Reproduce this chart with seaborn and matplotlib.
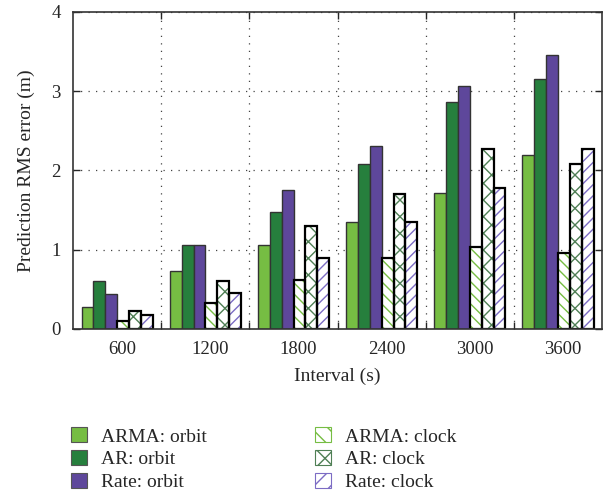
import matplotlib
matplotlib.use("Agg")
import matplotlib.pyplot as plt
from matplotlib.patches import Patch, Rectangle
from matplotlib.ticker import FixedLocator
from matplotlib.transforms import ScaledTranslation
import seaborn as sns
import pandas as pd

intervals = ["600", "1200", "1800", "2400", "3000", "3600"]
series = ["ARMA: orbit", "AR: orbit", "Rate: orbit", "ARMA: clock", "AR: clock", "Rate: clock"]
arma_orbit = [0.27, 0.73, 1.06, 1.35, 1.72, 2.19]
ar_orbit = [0.60, 1.06, 1.48, 2.08, 2.86, 3.15]
rate_orbit = [0.44, 1.06, 1.75, 2.31, 3.07, 3.45]
arma_clock = [0.105, 0.33, 0.62, 0.89, 1.03, 0.96]
ar_clock = [0.23, 0.61, 1.30, 1.70, 2.27, 2.08]
rate_clock = [0.17, 0.45, 0.89, 1.35, 1.78, 2.27]
values = [arma_orbit, ar_orbit, rate_orbit, arma_clock, ar_clock, rate_clock]

light_green = "#76BD43"
dark_green = "#267F3D"
purple = "#5E479B"
colors = [light_green, dark_green, purple, "white", "white", "white"]
hatch_colors = [None, None, None, light_green, "#4F7F55", "#7C6CC4"]
hatches = [None, None, None, "\\\\\\", "xx", "///"]
legend_hatches = [None, None, None, "\\\\", "xx", "//"]

rows = []
for s, vals in zip(series, values):
    for iv, v in zip(intervals, vals):
        rows.append({"Interval": iv, "value": v, "series": s})
df = pd.DataFrame(rows)

sns.set_style("white")
plt.rcParams["font.family"] = ["Liberation Serif", "DejaVu Serif"]
plt.rcParams["hatch.linewidth"] = 1.0

fig = plt.figure(figsize=(6.05, 4.96), dpi=100)
ax = fig.add_axes([0.121, 0.337, 0.874, 0.639])

sns.barplot(data=df, x="Interval", y="value", hue="series", hue_order=series,
            order=intervals, palette=colors, width=0.81, gap=0, dodge=True,
            ax=ax, legend=False, saturation=1, edgecolor="#333333", linewidth=1.0)

for i, cont in enumerate(ax.containers):
    for p in cont.patches:
        if hatches[i] is not None:
            p.set_facecolor("white")
            p.set_hatch(hatches[i])
            p.set_edgecolor(hatch_colors[i])
            p.set_linewidth(0)
            ax.add_patch(Rectangle((p.get_x(), p.get_y()), p.get_width(), p.get_height(),
                                   fill=False, edgecolor="black", linewidth=1.6, zorder=p.get_zorder() + 0.1))

ax.set_xlim(-0.5, 5.5)
ax.set_ylim(0, 4)
ax.set_yticks([0, 1, 2, 3, 4])
ax.set_yticklabels(["0", "1", "2", "3", "4"])
ax.xaxis.set_minor_locator(FixedLocator([0.5, 1.5, 2.5, 3.5, 4.5]))
ax.grid(False)
ax.grid(True, which="minor", axis="x", linestyle=(0, (1, 5)), color="#444444", linewidth=0.9)
ax.grid(True, which="major", axis="y", linestyle=(0, (1, 5)), color="#444444", linewidth=0.9)
ax.set_axisbelow(True)
ax.tick_params(axis="x", which="major", length=0, labelsize=13.5, pad=9)
ax.tick_params(axis="x", which="minor", length=5, direction="in", top=True, bottom=True, width=1)
ax.tick_params(axis="y", which="major", length=5, direction="in", left=True, right=True,
               labelsize=13.5, width=1, pad=9)
offset = ScaledTranslation(5 / 100, 0, fig.dpi_scale_trans)
for lab in ax.get_xticklabels():
    lab.set_transform(lab.get_transform() + offset)
for sp in ax.spines.values():
    sp.set_color("#333333")
    sp.set_linewidth(1.2)
ax.set_xlabel("Interval (s)", fontsize=14, labelpad=7)
ax.set_ylabel("Prediction RMS error (m)", fontsize=14, labelpad=12)

handles = []
for i in range(6):
    if hatches[i] is None:
        handles.append(Patch(facecolor=colors[i], edgecolor="#555555", linewidth=0.8))
    else:
        handles.append(Patch(facecolor="white", edgecolor=hatch_colors[i], hatch=legend_hatches[i], linewidth=0.8))
leg = fig.legend(handles, series, ncol=2, loc="upper left", bbox_to_anchor=(0.088, 0.174),
                 frameon=False, fontsize=14, handlelength=0.82, handleheight=0.82,
                 handletextpad=0.72, columnspacing=5.6, labelspacing=0.24)

fig.savefig("out.png", dpi=100)
